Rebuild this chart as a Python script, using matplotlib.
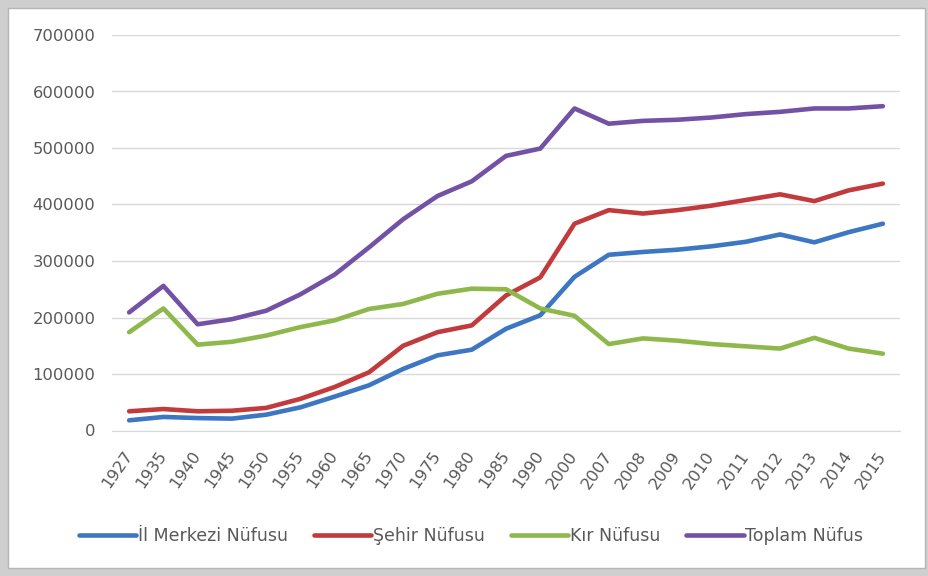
import matplotlib.pyplot as plt
from matplotlib.patches import Rectangle

years = ['1927', '1935', '1940', '1945', '1950', '1955', '1960', '1965', '1970', '1975',
         '1980', '1985', '1990', '2000', '2007', '2008', '2009', '2010', '2011', '2012',
         '2013', '2014', '2015']

il_merkezi = [18000, 24000, 22000, 21000, 28000, 41000, 60000, 80000, 109000, 133000,
              143000, 180000, 204000, 272000, 311000, 316000, 320000, 326000, 334000, 347000,
              333000, 351000, 366000]
sehir = [34000, 38000, 34000, 35000, 40000, 56000, 77000, 103000, 150000, 174000,
         186000, 239000, 271000, 366000, 390000, 384000, 390000, 398000, 408000, 418000,
         406000, 425000, 437000]
kir = [174000, 216000, 152000, 157000, 168000, 183000, 195000, 215000, 224000, 242000,
       251000, 250000, 216000, 203000, 153000, 163000, 159000, 153000, 149000, 145000,
       164000, 145000, 136000]
toplam = [209000, 256000, 188000, 197000, 212000, 241000, 276000, 324000, 374000, 415000,
          441000, 486000, 499000, 570000, 543000, 548000, 550000, 554000, 560000, 564000,
          570000, 570000, 574000]

yticks = [0, 100000, 200000, 300000, 400000, 500000, 600000, 700000]

series = [
    ('İl Merkezi Nüfusu', il_merkezi, '#3d76c2'),
    ('Şehir Nüfusu', sehir, '#c23a3b'),
    ('Kır Nüfusu', kir, '#8fb84c'),
    ('Toplam Nüfus', toplam, '#7352a6'),
]

plt.rcParams['font.family'] = ['DejaVu Sans']
text_color = '#595959'

fig = plt.figure(figsize=(9.29, 5.76), dpi=100, facecolor='#cfcfcf')
# white chart area inside the gray frame
fig.patches.append(Rectangle((8 / 929, 1 - 568 / 576), 917 / 929, 560 / 576,
                             transform=fig.transFigure, facecolor='white',
                             edgecolor='#b5b5b5', linewidth=1, zorder=-10))

ax = fig.add_axes([112 / 929, 1 - 430.5 / 576, 788 / 929, 395.5 / 576])
ax.set_facecolor('none')

x = list(range(len(years)))
for name, vals, color in series:
    ax.plot(x, vals, color=color, linewidth=3.3, label=name, solid_capstyle='round',
            solid_joinstyle='round')

ax.set_xlim(-0.5, len(years) - 0.5)
ax.set_ylim(0, 700000)
ax.set_yticks(yticks)
ax.set_yticklabels([str(v) for v in yticks])
ax.set_xticks(x)
ax.set_xticklabels(years, rotation=55, ha='right', va='center', rotation_mode='anchor')

ax.grid(axis='y', color='#d9d9d9', linewidth=1)
ax.set_axisbelow(True)
for s in ['top', 'right', 'left']:
    ax.spines[s].set_visible(False)
ax.spines['bottom'].set_color('#d9d9d9')
ax.tick_params(axis='both', length=0, labelsize=11.8, colors=text_color)
ax.tick_params(axis='y', pad=12)
ax.tick_params(axis='x', pad=16)

fig.legend(loc='center', bbox_to_anchor=(0.507, 0.069), ncol=4, frameon=False,
           fontsize=12.5, labelcolor=text_color, handlelength=3.3, handletextpad=0.1,
           columnspacing=1.5)

fig.savefig('out.png', dpi=100, facecolor=fig.get_facecolor())
